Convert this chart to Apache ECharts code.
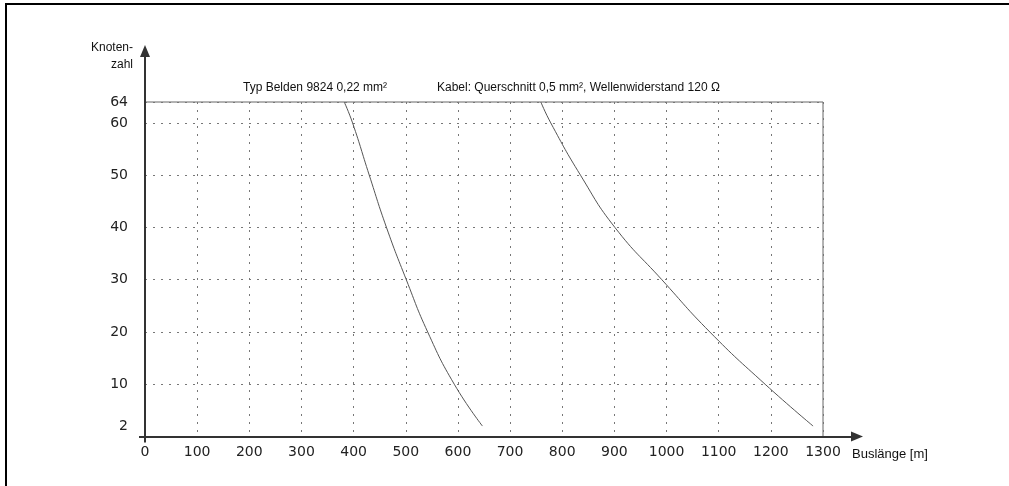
<!DOCTYPE html>
<html>
<head>
<meta charset="utf-8">
<script src="https://cdn.jsdelivr.net/npm/echarts@6/dist/echarts.min.js"></script>
<style>
html,body{margin:0;padding:0;background:#fff;}
#chart{width:1009px;height:486px;}
</style>
</head>
<body>
<div id="chart"></div>
<script>
// ---- data ----
const xLabels = [0,100,200,300,400,500,600,700,800,900,1000,1100,1200,1300];
const yLabels = [2,10,20,30,40,50,60,64];
const beldenLen   = [382, 398, 430, 463, 501, 542, 593, 647];
const beldenNodes = [64, 60, 50, 40, 30, 20, 10, 2];
const cableLen    = [759, 778, 835, 901, 991, 1083, 1189, 1281];
const cableNodes  = [64, 60, 50, 40, 30, 20, 10, 2];
const titleBelden = 'Typ Belden 9824 0,22 mm²';
const titleCable  = 'Kabel: Querschnitt 0,5 mm², Wellenwiderstand 120 Ω';
const yName = ['Knoten-', 'zahl'];
const xName = 'Buslänge [m]';

const chart = echarts.init(document.getElementById('chart'), null, {renderer:'canvas'});
const labelFont = {fontFamily:'DejaVu Sans', fontSize:14, color:'#222'};
const txtFont = 'Liberation Sans, Arial, sans-serif';
const gridLine = {show:true, lineStyle:{color:'#777', width:1, type:[2,6]}};

const option = {
  animation:false,
  backgroundColor:'#fff',
  grid:[
    {left:145, right:186, top:102, bottom:49.5, show:true, borderColor:'#666', borderWidth:1, backgroundColor:'transparent'},
    {left:145, right:152, top:51, bottom:49.5, show:false}
  ],
  xAxis:[
    {gridIndex:0, type:'value', min:0, max:1300, interval:100,
     axisLine:{show:false}, axisTick:{show:false},
     axisLabel:{show:true, customValues:xLabels, margin:9, formatter:v=>String(v), ...labelFont},
     splitLine:gridLine},
    {gridIndex:1, type:'value', min:0, max:1,
     axisLine:{show:true, symbol:['none','triangle'], symbolSize:[10,12], lineStyle:{color:'#333', width:2}},
     axisTick:{show:true, customValues:[0], length:6, lineStyle:{color:'#333', width:2}},
     axisLabel:{show:false}, splitLine:{show:false}}
  ],
  yAxis:[
    {gridIndex:0, type:'value', min:0, max:64, interval:10,
     axisLine:{show:false}, axisTick:{show:false},
     axisLabel:{show:true, customValues:yLabels, margin:17, formatter:v=>String(v), ...labelFont},
     splitLine:gridLine},
    {gridIndex:1, type:'value', min:0, max:1,
     axisLine:{show:true, symbol:['none','triangle'], symbolSize:[10,12], lineStyle:{color:'#333', width:2}},
     axisTick:{show:true, customValues:[0], length:6, lineStyle:{color:'#333', width:2}},
     axisLabel:{show:false}, splitLine:{show:false}}
  ],
  series:[
    {type:'line', xAxisIndex:0, yAxisIndex:0, smooth:0.5, showSymbol:false,
     data:beldenLen.map((v,i)=>[v, beldenNodes[i]]),
     lineStyle:{color:'#555', width:1}},
    {type:'line', xAxisIndex:0, yAxisIndex:0, smooth:0.5, showSymbol:false,
     data:cableLen.map((v,i)=>[v, cableNodes[i]]),
     lineStyle:{color:'#555', width:1}}
  ],
  graphic:[
    {type:'polyline', silent:true, shape:{points:[[6,486],[6,4],[1009,4]]}, style:{stroke:'#000', lineWidth:2, fill:null}},
    {type:'text', x:243, y:87.5, style:{text:titleBelden, font:'12px '+txtFont, fill:'#111', verticalAlign:'middle', align:'left'}},
    {type:'text', x:437, y:87.5, style:{text:titleCable, font:'12px '+txtFont, fill:'#111', verticalAlign:'middle', align:'left'}},
    {type:'text', x:133, y:47.5, style:{text:yName[0], font:'12px '+txtFont, fill:'#111', verticalAlign:'middle', align:'right'}},
    {type:'text', x:133, y:65, style:{text:yName[1], font:'12px '+txtFont, fill:'#111', verticalAlign:'middle', align:'right'}},
    {type:'text', x:852, y:454, style:{text:xName, font:'13px '+txtFont, fill:'#111', verticalAlign:'middle', align:'left'}}
  ]
};
chart.setOption(option);
</script>
</body>
</html>
